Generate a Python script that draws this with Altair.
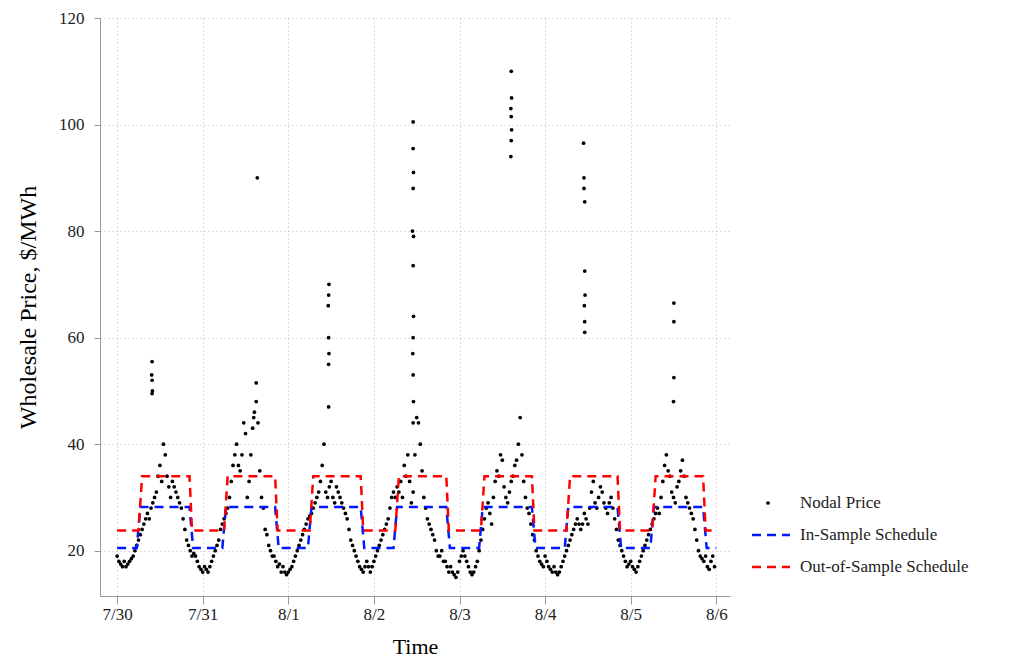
import altair as alt
import pandas as pd

day_labels = ["7/30", "7/31", "8/1", "8/2", "8/3", "8/4", "8/5", "8/6"]

# half-hourly nodal prices, one list per day (48 values each)
d0 = [19, 18, 17.5, 17, 18, 17, 17.5, 18, 18.5, 19, 20, 21, 22, 23, 24, 25, 26, 27, 26, 28,
      29, 30, 31, 34, 36, 33, 40, 38, 34, 32, 30, 33, 32, 31, 30, 29, 28, 26, 24, 22,
      21, 20, 19, 19.5, 19, 18, 17, 16.5]
d1 = [16, 17, 16.5, 16, 17, 18, 19, 20, 21, 22, 24, 25, 26, 27, 28, 30, 33, 36, 38, 40,
      36, 35, 38, 44, 42, 30, 33, 38, 43, 46, 48, 44, 35, 30, 28, 24, 23, 21, 20, 19,
      19, 18, 17, 17.5, 16, 17, 16, 15.5]
d2 = [16, 16.5, 17, 18, 19, 20, 21, 22, 23, 24, 25, 26, 26.5, 27, 28, 29, 30, 31, 33,
      36, 40, 31, 30, 32, 33, 30, 29, 32, 31, 30, 29, 28, 27, 26, 24, 22, 21, 20,
      19, 18, 17, 16.5, 16, 17, 18, 17, 16, 17]
d3 = [18, 19, 20, 21, 22, 23, 24, 25, 26, 28, 30, 31, 30, 32, 31, 33, 30, 36, 34, 38,
      33, 29, 31, 38, 45, 44, 40, 35, 30, 28, 26, 25, 24, 23, 22, 20, 19, 19, 20, 18,
      18, 17, 16, 17, 16, 15.5, 15, 16]
d4 = [18, 19, 20, 19, 18, 17, 16, 15.5, 16, 17, 18, 20, 22, 24, 26, 28, 29, 27, 25,
      30, 33, 35, 34, 38, 37, 32, 30, 29, 31, 33, 34, 36, 37, 40, 45, 38, 33, 30,
      28, 27, 25, 23, 22, 20, 19, 18, 17.5, 17]
d5 = [19, 18, 17, 16.5, 16, 17, 16, 15.5, 16, 17, 18, 19, 20, 21, 22, 23, 24, 25, 26, 25,
      24, 25, 27, 26, 25, 28, 31, 33, 29, 28, 30, 32, 31, 29, 28, 27, 29, 30, 28, 26,
      24, 22, 21, 20, 19, 18, 17, 17.5]
d6 = [18, 17, 16.5, 16, 17, 18, 19, 20, 21, 22, 23, 24, 25, 26, 27, 28, 27, 30, 33, 36,
      38, 35, 34, 31, 30, 29, 32, 33, 35, 37, 34, 30, 29, 28, 27, 26, 24, 22, 20, 19,
      18.5, 18, 19, 17, 16.5, 18, 19, 17]
days = [d0, d1, d2, d3, d4, d5, d6]

# price spikes: (day, hour, price)
spike_day = [0, 0, 0, 0, 0, 1, 1, 1, 2, 2, 2, 2, 2, 2, 2, 3, 3, 3, 3, 3, 3, 3, 3, 3, 3, 3, 3,
             3, 4, 4, 4, 4, 4, 4, 4, 5, 5, 5, 5, 5, 5, 5, 5, 5, 6, 6, 6, 6]
spike_hour = [9.8, 9.8, 9.9, 9.7, 9.8, 14.3, 15.3, 15.0, 11.3, 11.4, 11.3, 11.2, 11.4, 11.3, 11.3,
              11.0, 11.0, 11.1, 11.0, 10.8, 11.1, 11.0, 11.1, 11.0, 10.9, 11.0, 11.1,
              11.0, 14.5, 14.6, 14.4, 14.5, 14.6, 14.5, 14.4, 10.8, 10.9, 10.9, 11.1,
              11.1, 11.2, 11.0, 11.1, 11.1, 12.1, 12.1, 12.1, 12.0]
spike_price = [52, 55.5, 50, 53, 49.5, 45, 90, 51.5, 55, 57, 60, 66, 70, 68, 47, 100.5, 95.5,
               91, 88, 80, 79, 73.5, 64, 60, 57, 53, 48, 44, 110, 105, 103, 101.5, 99, 97,
               94, 96.5, 90, 88, 85.5, 72.5, 68, 66, 63, 61, 66.5, 63, 52.5, 48]

# schedules: breakpoints within a day (hours) and levels
in_hours = [0, 5.5, 6.5, 20.3, 21.3, 24]
in_vals = [20.5, 20.5, 28.2, 28.2, 20.5, 20.5]
out_hours = [0, 6.0, 7.0, 20.3, 21.0, 24]
out_vals = [23.8, 23.8, 34.0, 34.0, 23.8, 23.8]

rows = []
for d, vals in enumerate(days):
    for i, v in enumerate(vals):
        rows.append({"t": d + i / 48, "p": v})
for d, h, v in zip(spike_day, spike_hour, spike_price):
    rows.append({"t": d + h / 24, "p": v})
pts = pd.DataFrame(rows)

sched = []
for d in range(7):
    for h, v in zip(in_hours, in_vals):
        sched.append({"t": d + h / 24, "p": v, "s": "in"})
    for h, v in zip(out_hours, out_vals):
        sched.append({"t": d + h / 24, "p": v, "s": "out"})
sched = pd.DataFrame(sched)

FONT = "Liberation Serif"
xs = alt.Scale(domain=[-0.2, 7.16], nice=False)
ys = alt.Scale(domain=[11.5, 120], nice=False)
xax = alt.Axis(values=list(range(8)), labelExpr="['7/30','7/31','8/1','8/2','8/3','8/4','8/5','8/6'][datum.value]",
               title="Time", grid=True, gridDash=[1, 3], gridColor="#bbb", tickSize=8,
               labelFontSize=17, titleFontSize=22, titleFontWeight="normal", labelFont=FONT,
               titleFont=FONT, domainColor="#999", tickColor="#999", labelColor="#222", titlePadding=14)
yax = alt.Axis(values=[20, 40, 60, 80, 100, 120], title="Wholesale Price, $/MWh", grid=True,
               gridDash=[1, 3], gridColor="#bbb", tickSize=6, labelFontSize=17, titleFontSize=24,
               titleFontWeight="normal", labelFont=FONT, titleFont=FONT, domainColor="#999",
               tickColor="#999", labelColor="#222", labelPadding=10, titlePadding=18)

points = alt.Chart(pts).mark_circle(size=14, color="black", opacity=1).encode(
    x=alt.X("t:Q", scale=xs, axis=xax), y=alt.Y("p:Q", scale=ys, axis=yax))
lin = alt.Chart(sched).transform_filter("datum.s == 'in'").mark_line(
    color="#0019ff", strokeDash=[9, 6], strokeWidth=2.5).encode(x="t:Q", y="p:Q")
lout = alt.Chart(sched).transform_filter("datum.s == 'out'").mark_line(
    color="#ff0000", strokeDash=[9, 6], strokeWidth=2.5).encode(x="t:Q", y="p:Q")

legend_labels = ["Nodal Price", "In-Sample Schedule", "Out-of-Sample Schedule"]
legend_y = [485, 517, 549]
leg = pd.DataFrame({"label": legend_labels})
layers = [points, lin, lout]
for lab, yy in zip(legend_labels, legend_y):
    layers.append(alt.Chart(leg).transform_filter(f"datum.label == '{lab}'").mark_text(
        align="left", baseline="middle", fontSize=17, font=FONT, color="#222").encode(
        x=alt.value(700), y=alt.value(yy), text="label:N"))
layers.append(alt.Chart(leg).transform_filter("datum.label == 'Nodal Price'").mark_circle(
    size=14, color="black", opacity=1).encode(x=alt.value(668), y=alt.value(legend_y[0])))
layers.append(alt.Chart(leg).transform_filter("datum.label == 'In-Sample Schedule'").mark_rule(
    color="#0019ff", strokeDash=[9, 6], strokeWidth=2.5).encode(
    x=alt.value(652), x2=alt.value(690), y=alt.value(legend_y[1])))
layers.append(alt.Chart(leg).transform_filter("datum.label == 'Out-of-Sample Schedule'").mark_rule(
    color="#ff0000", strokeDash=[9, 6], strokeWidth=2.5).encode(
    x=alt.value(652), x2=alt.value(690), y=alt.value(legend_y[2])))

chart = alt.layer(*layers).properties(
    width=630, height=578, background="white", padding={"left": 8, "top": 1, "right": 5, "bottom": 2}
).configure_view(stroke=None)
chart.save("out.html", embed_options={"renderer": "svg", "actions": False})
